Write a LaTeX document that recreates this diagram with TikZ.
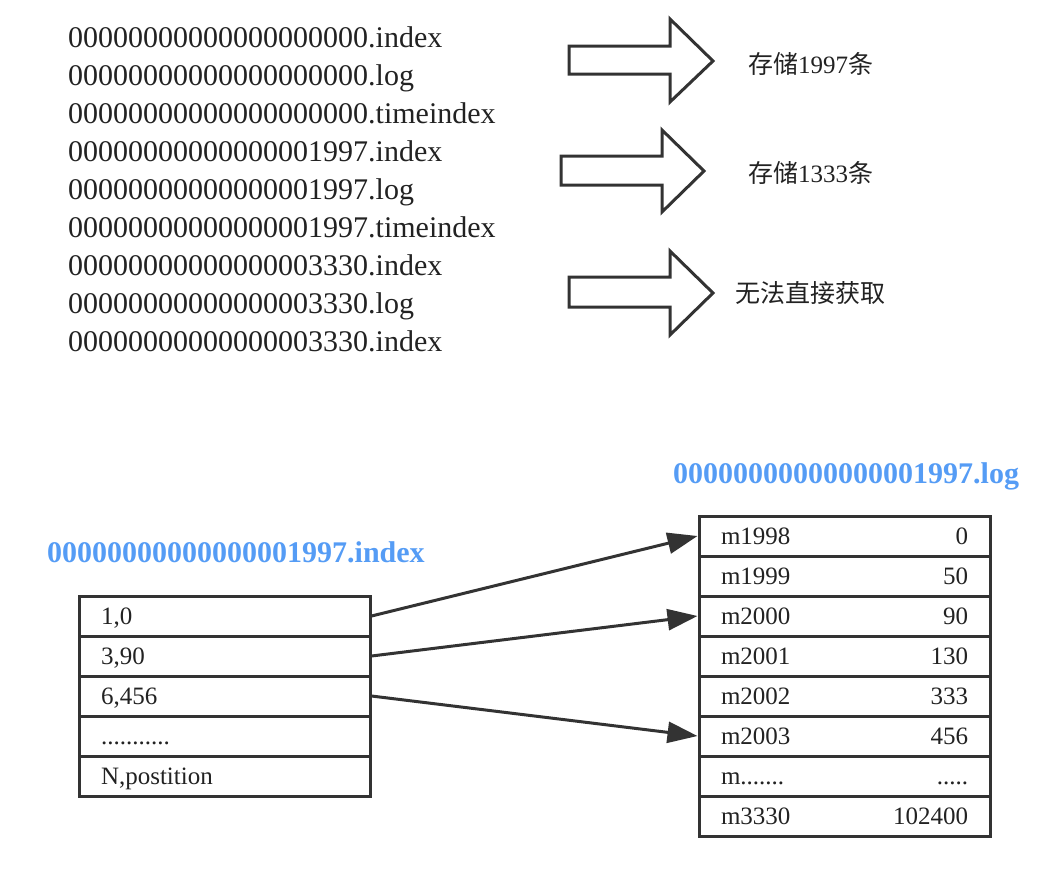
\documentclass[tikz,border=0pt]{standalone}
\usepackage{fontspec}
\setmainfont{Liberation Serif}
\newfontfamily\cjk{Noto Sans CJK SC}
\usetikzlibrary{arrows.meta}
\definecolor{linegray}{RGB}{51,51,51}
\definecolor{txtgray}{RGB}{34,34,34}
\definecolor{fileblue}{RGB}{85,156,245}
\tikzset{
  fname/.style={anchor=base west, inner sep=0pt, text=txtgray, font=\fontsize{30pt}{36pt}\selectfont},
  note/.style={anchor=base west, inner sep=0pt, text=txtgray, font=\fontsize{25pt}{30pt}\selectfont},
  blocky/.style={draw=linegray, line width=3pt, fill=white, line join=miter},
  title/.style={anchor=base west, inner sep=0pt, text=fileblue, font=\bfseries\fontsize{30pt}{36pt}\selectfont},
  cell/.style={draw=linegray, line width=3pt, minimum width=291pt, minimum height=40pt,
    inner xsep=22pt, inner ysep=0pt, text width=247pt, align=left, text=txtgray,
    text height=17pt, text depth=0pt, font=\fontsize{25pt}{30pt}\selectfont},
  link/.style={draw=linegray, line width=3pt, -{Triangle[length=30pt,width=21pt]}}
}
\begin{document}
\begin{tikzpicture}[x=1pt,y=-1pt]
\useasboundingbox (0,0) rectangle (1056,894);
% top file list
\node[fname] (f1) at (68,47) {00000000000000000000.index};
\node[fname] (f2) at (68,85) {00000000000000000000.log};
\node[fname] (f3) at (68,123) {00000000000000000000.timeindex};
\node[fname] (f4) at (68,161) {00000000000000001997.index};
\node[fname] (f5) at (68,199) {00000000000000001997.log};
\node[fname] (f6) at (68,237) {00000000000000001997.timeindex};
\node[fname] (f7) at (68,275) {00000000000000003330.index};
\node[fname] (f8) at (68,313) {00000000000000003330.log};
\node[fname] (f9) at (68,351) {00000000000000003330.index};
% block arrows
\draw[blocky] (569,46) -- (670,46) -- (670,19) -- (713,61) -- (670,102) -- (670,74) -- (569,74) -- cycle;
\draw[blocky] (561,156) -- (662,156) -- (662,130) -- (704,171) -- (662,212) -- (662,185) -- (561,185) -- cycle;
\draw[blocky] (569,277) -- (670,277) -- (670,251) -- (713,293) -- (670,335) -- (670,307) -- (569,307) -- cycle;
\node[note] (n1) at (748,73) {{\cjk 存储}1997{\cjk 条}};
\node[note] (n2) at (748,182) {{\cjk 存储}1333{\cjk 条}};
\node[note] (n3) at (735,302) {{\cjk 无法直接获取}};
% titles
\node[title] (tidx) at (47,562) {00000000000000001997.index};
\node[title] (tlog) at (673,483) {00000000000000001997.log};
% index table
\node[cell] (i1) at (224.5,616) {1,0};
\node[cell] (i2) at (224.5,656) {3,90};
\node[cell] (i3) at (224.5,696) {6,456};
\node[cell] (i4) at (224.5,736) {...........};
\node[cell] (i5) at (224.5,776) {N,postition};
% log table
\node[cell] (l1) at (844.5,536) {m1998\hfill 0};
\node[cell] (l2) at (844.5,576) {m1999\hfill 50};
\node[cell] (l3) at (844.5,616) {m2000\hfill 90};
\node[cell] (l4) at (844.5,656) {m2001\hfill 130};
\node[cell] (l5) at (844.5,696) {m2002\hfill 333};
\node[cell] (l6) at (844.5,736) {m2003\hfill 456};
\node[cell] (l7) at (844.5,776) {m.......\hfill .....};
\node[cell] (l8) at (844.5,816) {m3330\hfill 102400};
% links
\draw[link] (i1.east) -- (l1.west);
\draw[link] (i2.east) -- (l3.west);
\draw[link] (i3.east) -- (l6.west);
\end{tikzpicture}
\end{document}
